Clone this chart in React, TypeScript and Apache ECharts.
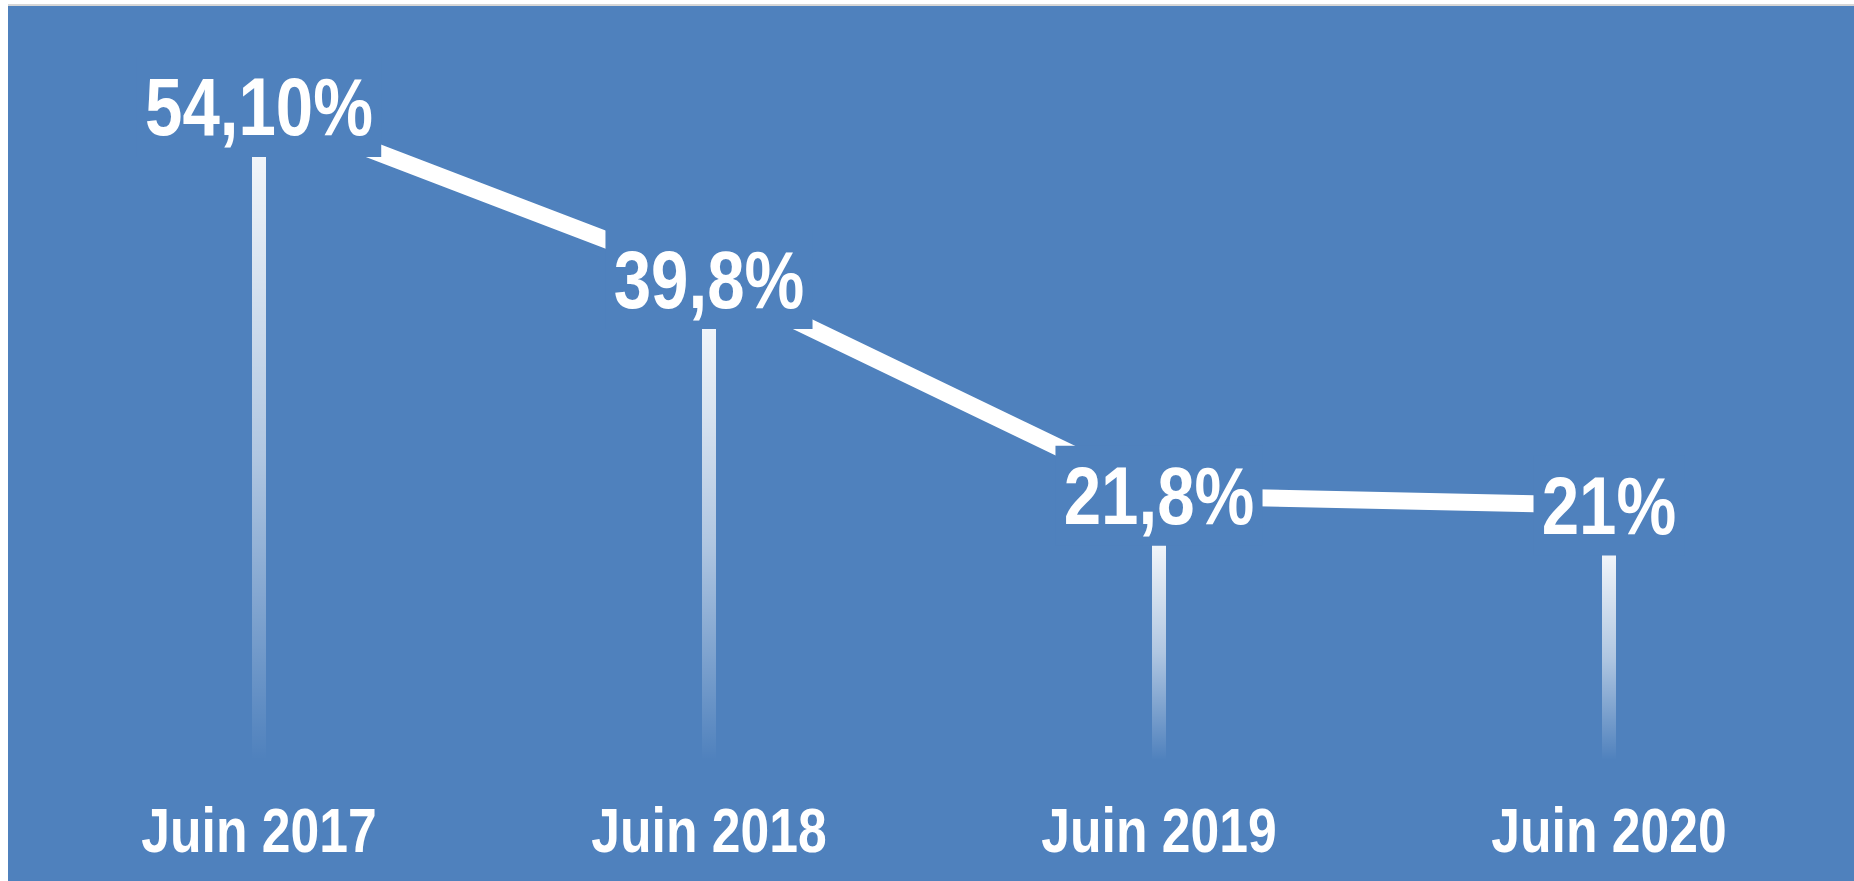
import React, { useEffect, useRef } from "react";
import * as echarts from "echarts";

const categories = ["Juin 2017", "Juin 2018", "Juin 2019", "Juin 2020"];
const values = [54.1, 39.8, 21.8, 21];
const valueLabels = ["54,10%", "39,8%", "21,8%", "21%"];

const BG = "#4f81bd";
const FONT = "'Liberation Sans', Arial, sans-serif";
const NARROW_SCALE = 0.82;

export default function App() {
  const ref = useRef<HTMLDivElement>(null);
  useEffect(() => {
    if (!ref.current) return;
    const chart = echarts.init(ref.current, undefined, { renderer: "svg" });
    const points = values.map((v, i) => [i, v]);
    chart.setOption({
      animation: false,
      backgroundColor: BG,
      grid: [
        { left: 26, right: 20, top: 80, bottom: 121 },
        { left: 26, right: 20, top: 30, bottom: 171 },
      ],
      xAxis: [
        {
          type: "category",
          gridIndex: 0,
          data: categories,
          axisLine: { show: false },
          axisTick: { show: false },
          axisLabel: { show: false },
        },
        { type: "category", gridIndex: 1, data: categories, show: false },
      ],
      yAxis: [
        { type: "value", gridIndex: 0, min: 4, max: 60, show: false },
        { type: "value", gridIndex: 1, min: 4, max: 60, show: false },
      ],
      series: [
        {
          type: "line",
          xAxisIndex: 1,
          yAxisIndex: 1,
          z: 2,
          data: values,
          symbol: "none",
          lineStyle: { color: "#ffffff", width: 17 },
        },
        {
          type: "custom",
          xAxisIndex: 1,
          yAxisIndex: 1,
          z: 3,
          data: points,
          renderItem: (params: any, api: any) => {
            const p = api.coord([api.value(0), api.value(1)]);
            return {
              type: "text",
              x: p[0],
              y: p[1],
              scaleX: NARROW_SCALE,
              style: {
                text: valueLabels[params.dataIndex],
                fill: "#ffffff",
                fontFamily: FONT,
                fontWeight: "bold",
                fontSize: 82,
                lineHeight: 84,
                align: "center",
                verticalAlign: "middle",
                backgroundColor: BG,
                padding: [8, 10, 8, 10],
              },
            };
          },
        },
        {
          type: "custom",
          xAxisIndex: 0,
          yAxisIndex: 0,
          z: 3,
          data: points,
          renderItem: (params: any, api: any) => {
            const cs = params.coordSys;
            const p = api.coord([api.value(0), api.value(1)]);
            return {
              type: "text",
              x: p[0],
              y: cs.y + cs.height + 70,
              scaleX: NARROW_SCALE,
              style: {
                text: categories[params.dataIndex],
                fill: "#ffffff",
                fontFamily: FONT,
                fontWeight: "bold",
                fontSize: 63,
                align: "center",
                verticalAlign: "middle",
              },
            };
          },
        },
        {
          type: "bar",
          xAxisIndex: 0,
          yAxisIndex: 0,
          z: 4,
          clip: true,
          barWidth: 14,
          data: values,
          itemStyle: {
            color: new echarts.graphic.LinearGradient(0, 0, 0, 1, [
              { offset: 0, color: "rgba(255,255,255,0.92)" },
              { offset: 0.5, color: "rgba(255,255,255,0.55)" },
              { offset: 1, color: "rgba(255,255,255,0)" },
            ]),
          },
        },
      ],
    });
    return () => chart.dispose();
  }, []);

  return (
    <div
      style={{
        position: "fixed",
        left: 8,
        top: 4,
        width: 1846,
        height: 877,
        borderTop: "2px solid #d6d6d6",
        background: BG,
      }}
    >
      <div ref={ref} style={{ width: 1846, height: 875 }} />
    </div>
  );
}
